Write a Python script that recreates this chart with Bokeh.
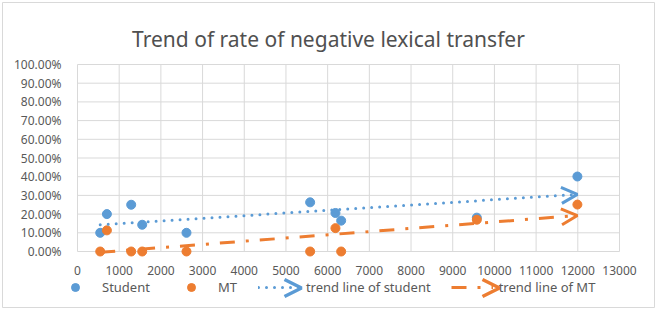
import numpy as np
from bokeh.plotting import figure
from bokeh.models import (Legend, LegendItem, NumeralTickFormatter, FixedTicker,
                          Range1d, Arrow, OpenHead, Label)
from bokeh.embed import file_html
from bokeh.resources import INLINE

# ---- data ----
x_vals = [545, 705, 1288, 1552, 2614, 5580, 6187, 6324, 9578, 11990]
student = [0.10, 0.20, 0.25, 0.143, 0.10, 0.263, 0.206, 0.165, 0.181, 0.401]
mt = [0.0, 0.113, 0.0, 0.0, 0.0, 0.0, 0.125, 0.0, 0.17, 0.251]
x_ticks = list(range(0, 14000, 1000))
y_ticks = [i / 10 for i in range(0, 11)]
title_text = "Trend of rate of negative lexical transfer"

BLUE = "#5B9BD5"
ORANGE = "#ED7D31"
GRID = "#D9D9D9"
TXT = "#595959"
FONT = "Noto Sans"

# layout: the frame is the whole chart box; the axes sit at x=0 / y=0
W, H = 656, 310
BOX_L, BOX_R, BOX_T, BOX_B = 2, 654, 2, 307          # chart border (px)
PA_L, PA_R, PA_T, PA_B = 77, 619, 64, 251             # plot area (px)
XMAX, YMAX = x_ticks[-1], y_ticks[-1]
sx = (PA_R - PA_L) / XMAX
sy = (PA_B - PA_T) / YMAX
def px_x(px):
    return (px - PA_L) / sx
def px_y(py):
    return (PA_B - py) / sy

p = figure(width=W, height=H, output_backend="svg", toolbar_location=None,
           x_range=Range1d(px_x(BOX_L), px_x(BOX_R)),
           y_range=Range1d(px_y(BOX_B), px_y(BOX_T)),
           min_border_left=BOX_L, min_border_right=W - BOX_R,
           min_border_top=BOX_T, min_border_bottom=H - BOX_B)
p.outline_line_color = GRID
p.outline_line_width = 1
p.xgrid.visible = False
p.ygrid.visible = False

for ax in (p.xaxis[0], p.yaxis[0]):
    ax.fixed_location = 0
    ax.axis_line_color = None
    ax.major_tick_line_color = None
    ax.minor_tick_line_color = None
    ax.major_label_text_font = FONT
    ax.major_label_text_font_size = "12px"
    ax.major_label_text_color = TXT
p.xaxis.ticker = FixedTicker(ticks=x_ticks)
p.yaxis.ticker = FixedTicker(ticks=y_ticks)
p.yaxis.formatter = NumeralTickFormatter(format="0.00%")
p.xaxis.major_label_standoff = 8
p.yaxis.major_label_standoff = 10

# gridlines limited to the plot area
p.segment(x0=x_ticks, x1=x_ticks, y0=[0] * len(x_ticks), y1=[YMAX] * len(x_ticks),
          line_color=GRID, line_width=1)
p.segment(x0=[0] * len(y_ticks), x1=[XMAX] * len(y_ticks), y0=y_ticks, y1=y_ticks,
          line_color=GRID, line_width=1)

r_s = p.scatter(x_vals, student, size=9, color=BLUE)
r_m = p.scatter(x_vals, mt, size=9, color=ORANGE)

# linear trend lines (least squares, as in the spreadsheet)
xs = np.array(x_vals, dtype=float)
x0, x1 = xs.min(), xs.max()
ks, bs = np.polyfit(xs, np.array(student), 1)
km, bm = np.polyfit(xs, np.array(mt), 1)
r_ts = p.line([x0, x1], [ks * x0 + bs, ks * x1 + bs], line_color=BLUE,
              line_width=3, line_dash="0 8", line_cap="round")
r_tm = p.line([x0, x1], [km * x0 + bm, km * x1 + bm], line_color=ORANGE,
              line_width=3, line_dash="15 11 3 11")
p.add_layout(Arrow(end=OpenHead(size=16, line_width=3, line_color=BLUE),
                   x_start=x1 - 300, y_start=ks * (x1 - 300) + bs,
                   x_end=x1, y_end=ks * x1 + bs, line_color=None))
p.add_layout(Arrow(end=OpenHead(size=16, line_width=3, line_color=ORANGE),
                   x_start=x1 - 300, y_start=km * (x1 - 300) + bm,
                   x_end=x1, y_end=km * x1 + bm, line_color=None))

p.add_layout(Label(x=px_x(328), y=px_y(38), text=title_text,
                   text_align="center", text_baseline="alphabetic",
                   text_font=FONT, text_font_size="21px", text_color="#505050"))

legend = Legend(items=[
    LegendItem(label="Student", renderers=[r_s]),
    LegendItem(label="MT", renderers=[r_m]),
    LegendItem(label="trend line of student", renderers=[r_ts]),
    LegendItem(label="trend line of MT", renderers=[r_tm]),
], orientation="horizontal", location=(52, 10), glyph_width=42,
    label_standoff=6, spacing=20, border_line_color=None,
    background_fill_alpha=0, padding=0, margin=0,
    label_text_font=FONT, label_text_font_size="13px", label_text_color=TXT)
p.add_layout(legend)

# arrow heads on the legend's trend-line symbols
for tip_px, col in ((301, BLUE), (499, ORANGE)):
    p.add_layout(Arrow(end=OpenHead(size=17, line_width=3.5, line_color=col),
                       x_start=px_x(tip_px - 12), y_start=px_y(287.5),
                       x_end=px_x(tip_px), y_end=px_y(287.5), line_color=None))

open("out.html", "w").write(file_html(p, INLINE))
